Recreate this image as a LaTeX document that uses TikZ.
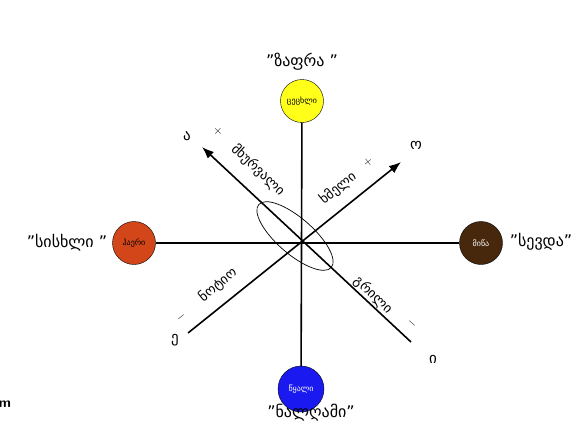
\documentclass[tikz,border=0pt]{standalone}
\usepackage{fontspec}
\usetikzlibrary{arrows.meta}
\newfontfamily\geofont{DejaVu Sans}
\definecolor{FireColor}{HTML}{FFFF1A}
\definecolor{AirColor}{HTML}{D2461A}
\definecolor{EarthColor}{HTML}{47280C}
\definecolor{WaterColor}{HTML}{1A1AF0}
\tikzset{
  element/.style={circle, draw=black, thin, minimum size=43pt, inner sep=0pt,
    font=\geofont\fontsize{8}{9}\selectfont},
  humour/.style={font=\geofont\fontsize{16}{18}\selectfont},
  quality/.style={font=\geofont\fontsize{13.5}{15}\selectfont},
  vowel/.style={font=\geofont\fontsize{15}{17}\selectfont},
  sign/.style={font=\fontsize{12}{13}\selectfont},
  axis/.style={line width=1.6pt},
}

\begin{document}
\begin{tikzpicture}[x=1pt, y=-1pt]
  \useasboundingbox (0,0) rectangle (586,436);
  % four elements
  \node[element, fill=FireColor] (fire) at (302,101) {ცეცხლი};
  \node[element, fill=AirColor] (air) at (134,243) {ჰაერი};
  \node[element, fill=EarthColor, text=white] (earth) at (481,243) {მიწა};
  \node[element, fill=WaterColor, text=white, minimum size=46pt] (water) at (301,389) {წყალი};
  % humours
  \node[humour] (bile) at (302,62) {”ზაფრა ”};
  \node[humour] (blood) at (67,243) {”სისხლი ”};
  \node[humour] (melan) at (541,242) {”სევდა”};
  \node[humour] (phlegm) at (311,413) {”ნალღამი”};
  % axis ends
  \coordinate (hot) at (202,147);
  \coordinate (cool) at (411,342);
  \coordinate (dry) at (401,162);
  \coordinate (moist) at (188,333);
  \coordinate (ring) at (295,236);
  \draw[axis] (fire) -- (water);
  \draw[axis] (air) -- (earth);
  \draw[axis, -{Latex[length=12pt, width=9pt]}] (cool) -- (hot);
  \draw[axis, -{Latex[length=12pt, width=9pt]}] (moist) -- (dry);
  \draw[line width=0.7pt, rotate around={-41:(ring)}] (ring) ellipse [x radius=48, y radius=18];
  % qualities
  \node[quality, rotate=-43] (hotlbl) at (258,170) {მხურვალი};
  \node[quality, rotate=39] (drylbl) at (338,188) {ხმელი};
  \node[quality, rotate=39] (moistlbl) at (218,285) {ნოტიო};
  \node[quality, rotate=-43] (coollbl) at (373,295) {გრილი};
  \node[sign, rotate=-43] (hotsgn) at (218,131) {+};
  \node[sign, rotate=39] (drysgn) at (368,162) {+};
  \node[sign, rotate=39] (moistsgn) at (181,317) {$-$};
  \node[sign, rotate=-43] (coolsgn) at (412,323) {$-$};
  \node[vowel] (a) at (187,136) {ა};
  \node[vowel] (o) at (416,145) {ო};
  \node[vowel] (e) at (175,340) {ე};
  \node[vowel] (i) at (433,359) {ი};
  \node[font=\sffamily\bfseries\fontsize{14}{15}\selectfont] (cut) at (5,404) {m};
\end{tikzpicture}
\end{document}
